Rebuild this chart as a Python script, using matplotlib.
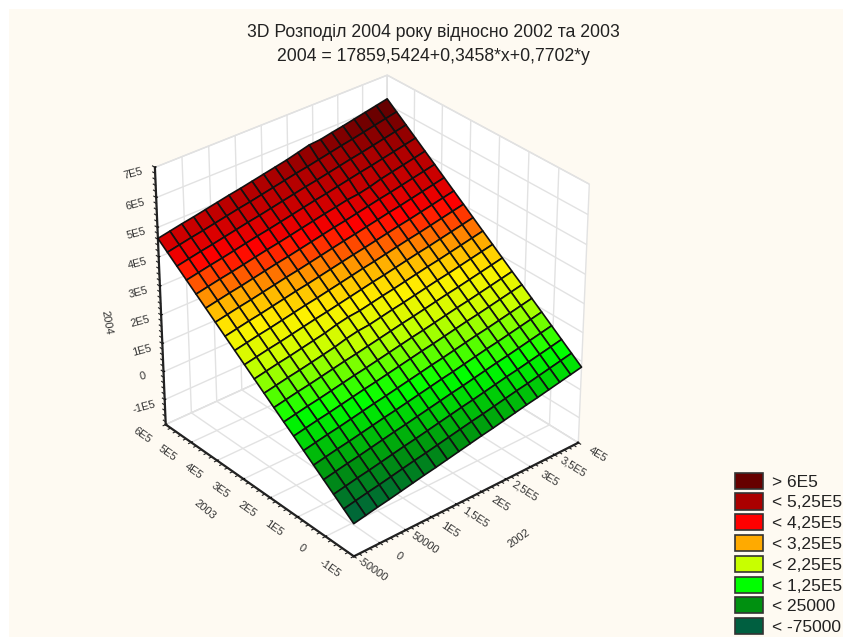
import matplotlib
matplotlib.use('Agg')
import matplotlib.pyplot as plt
import numpy as np
from matplotlib.colors import LinearSegmentedColormap, Normalize
from matplotlib.patches import Patch, Rectangle

plt.rcParams['font.family'] = ['Liberation Sans', 'DejaVu Sans']

# 2002 (x) and 2003 (y) grid of the fitted surface
x_2002 = [-50000, -27500, -5000, 17500, 40000, 62500, 85000, 107500, 130000, 152500, 175000,
          197500, 220000, 242500, 265000, 287500, 310000, 332500, 355000, 377500, 400000]
y_2003 = [-100000, -65000, -30000, 5000, 40000, 75000, 110000, 145000, 180000, 215000, 250000,
          285000, 320000, 355000, 390000, 425000, 460000, 495000, 530000, 565000, 600000]

# 2004, thousands (rows follow y_2003, columns x_2002)
z_2004 = [
    [-76, -68, -60, -53, -45, -37, -29, -22, -14, -6, 2, 10, 17, 25, 33, 41, 48, 56, 64, 72, 80],
    [-49, -41, -33, -26, -18, -10, -2, 5, 13, 21, 29, 37, 44, 52, 60, 68, 75, 83, 91, 99, 107],
    [-22, -14, -6, 1, 9, 17, 25, 32, 40, 48, 56, 64, 71, 79, 87, 95, 102, 110, 118, 126, 134],
    [5, 13, 21, 28, 36, 44, 52, 59, 67, 75, 83, 91, 98, 106, 114, 122, 129, 137, 145, 153, 161],
    [32, 40, 48, 55, 63, 71, 79, 86, 94, 102, 110, 118, 125, 133, 141, 149, 156, 164, 172, 180, 188],
    [59, 67, 75, 82, 90, 98, 106, 113, 121, 129, 137, 145, 152, 160, 168, 176, 183, 191, 199, 207, 215],
    [86, 94, 102, 109, 117, 125, 133, 140, 148, 156, 164, 172, 179, 187, 195, 203, 210, 218, 226, 234, 242],
    [112, 120, 128, 135, 143, 151, 159, 166, 174, 182, 190, 198, 205, 213, 221, 229, 236, 244, 252, 260, 268],
    [139, 147, 155, 162, 170, 178, 186, 193, 201, 209, 217, 225, 232, 240, 248, 256, 263, 271, 279, 287, 295],
    [166, 174, 182, 189, 197, 205, 213, 224, 232, 236, 244, 252, 259, 267, 275, 283, 290, 298, 306, 314, 322],
    [193, 201, 209, 216, 224, 232, 240, 251, 259, 263, 271, 279, 286, 294, 302, 310, 317, 325, 333, 341, 349],
    [220, 228, 236, 243, 251, 259, 267, 274, 282, 290, 298, 306, 313, 321, 329, 337, 344, 352, 360, 368, 376],
    [247, 255, 263, 270, 278, 286, 294, 301, 309, 317, 325, 333, 340, 348, 356, 364, 371, 379, 387, 395, 403],
    [274, 282, 290, 297, 305, 313, 321, 328, 336, 344, 352, 360, 367, 375, 383, 391, 398, 406, 414, 422, 430],
    [301, 309, 317, 324, 332, 340, 348, 355, 363, 371, 379, 387, 394, 402, 410, 418, 425, 433, 441, 449, 457],
    [328, 336, 344, 351, 359, 367, 375, 382, 390, 398, 406, 414, 421, 429, 437, 445, 452, 460, 468, 476, 484],
    [355, 363, 371, 378, 386, 394, 402, 409, 417, 425, 433, 441, 448, 456, 460, 468, 479, 487, 495, 503, 511],
    [382, 390, 398, 405, 413, 421, 429, 436, 444, 452, 460, 468, 475, 483, 491, 499, 506, 514, 522, 530, 538],
    [409, 417, 425, 432, 440, 448, 456, 463, 471, 479, 487, 495, 502, 510, 518, 526, 533, 541, 549, 557, 565],
    [436, 444, 452, 459, 467, 475, 483, 490, 498, 506, 514, 522, 529, 537, 545, 553, 560, 568, 576, 584, 592],
    [463, 471, 479, 486, 494, 502, 510, 517, 525, 533, 541, 549, 559, 569, 572, 580, 587, 595, 603, 611, 619],
]

x_ticks = [-50000, 0, 50000, 100000, 150000, 200000, 250000, 300000, 350000, 400000]
x_labels = ['-50000', '0', '50000', '1E5', '1,5E5', '2E5', '2,5E5', '3E5', '3,5E5', '4E5']
y_ticks = [-100000, 0, 100000, 200000, 300000, 400000, 500000, 600000]
y_labels = ['-1E5', '0', '1E5', '2E5', '3E5', '4E5', '5E5', '6E5']
z_ticks = [-100000, 0, 100000, 200000, 300000, 400000, 500000, 600000, 700000]
z_labels = ['-1E5', '0', '1E5', '2E5', '3E5', '4E5', '5E5', '6E5', '7E5']

legend_labels = ['> 6E5', '< 5,25E5', '< 4,25E5', '< 3,25E5', '< 2,25E5', '< 1,25E5', '< 25000', '< -75000']
legend_colors = ['#660000', '#AA0000', '#FF0000', '#FFAA00', '#C8FF00', '#00FF00', '#009010', '#005F40']

BG = '#FEFAF2'
TXT = '#333333'

# color ramp as seen on the surface
levels = [-75000, 10000, 115000, 215000, 280000, 335000, 410000, 465000, 525000, 600000]
level_colors = ['#005F40', '#009010', '#00FF00', '#C8FF00', '#FFF000', '#FFAA00', '#FF0000', '#CC0000',
                '#AA0000', '#660000']
norm = Normalize(levels[0], levels[-1])
cmap = LinearSegmentedColormap.from_list(
    'bands', [(norm(l), c) for l, c in zip(levels, level_colors)], N=256)

X, Y = np.meshgrid(x_2002, y_2003)
Z = np.array(z_2004) * 1000.0
cell_z = (Z[:-1, :-1] + Z[1:, :-1] + Z[:-1, 1:] + Z[1:, 1:]) / 4

fig = plt.figure(figsize=(8.43, 6.37), dpi=100, facecolor='white')
# cream panel, the picture has a thin white strip top and left
fig.add_artist(Rectangle((9 / 843, 0), 1, 1 - 9 / 637, transform=fig.transFigure, facecolor=BG,
                         edgecolor='none', zorder=-10))

ax = fig.add_axes([-0.070, 0.003, 1.0, 1.0], projection='3d')
ax.patch.set_alpha(0)
ax.view_init(elev=31.8, azim=-130.5)
ax.set_proj_type('persp', focal_length=0.9)
ax.set_box_aspect((1, 1, 1.01), zoom=0.795)

ax.plot_surface(X, Y, Z, rstride=1, cstride=1, facecolors=cmap(norm(cell_z)),
                edgecolor='#111111', linewidth=1.2, shade=False, antialiased=True)

XMIN, XMAX = -50000, 400000
YMIN, YMAX = -100000, 600000
ZMIN, ZMAX = -190000, 700000

# small ticks between the labelled ones
for t in range(XMIN, XMAX + 1, 10000):
    ax.plot([t, t], [YMIN, YMIN - 8000], [ZMIN, ZMIN], color='#222222', lw=0.8)
for t in range(YMIN, YMAX + 1, 20000):
    ax.plot([XMIN, XMIN - 5000], [t, t], [ZMIN, ZMIN], color='#222222', lw=0.8)
for t in range(-180000, ZMAX + 1, 20000):
    ax.plot([XMIN, XMIN], [YMAX, YMAX + 9000], [t, t], color='#222222', lw=0.8)

ax.set_xlim(XMIN, XMAX)
ax.set_ylim(YMIN, YMAX)
ax.set_zlim(ZMIN, ZMAX)

ax.set_xticks(x_ticks, [''] * len(x_ticks))
ax.set_yticks(y_ticks, [''] * len(y_ticks))
ax.set_zticks(z_ticks, z_labels)

for axis in (ax.xaxis, ax.yaxis, ax.zaxis):
    axis.set_pane_color('white')
    axis.pane.set_edgecolor('#DDDDDD')
    axis.line.set_color('#222222')
    axis.line.set_linewidth(1.6)
    axis._axinfo['grid']['color'] = '#E2E2E2'
    axis._axinfo['grid']['linewidth'] = 1.0
    axis._axinfo['tick']['color'] = '#222222'
    axis._axinfo['tick']['inward_factor'] = 0.0
    axis._axinfo['tick']['outward_factor'] = 0.06

ax.tick_params(axis='z', labelsize=8, labelcolor=TXT, labelrotation=15, pad=4)

# floor labels as 3D text, zdir gives them the slant of the 2003 edge
for t, lab in zip(x_ticks, x_labels):
    ax.text(t, YMIN - 65000, ZMIN, lab, zdir=(0, -1, 0), fontsize=8, color=TXT, ha='center', va='center')
for t, lab in zip(y_ticks, y_labels):
    ax.text(XMIN - 45000, t, ZMIN, lab, zdir=(0, -1, 0), fontsize=8, color=TXT, ha='center', va='center')

fig.text(205 / 843, 1 - 510 / 637, '2003', fontsize=8, color=TXT, rotation=-40, ha='center', va='center')
fig.text(519 / 843, 1 - 538 / 637, '2002', fontsize=8, color=TXT, rotation=35, ha='center', va='center')
fig.text(107 / 843, 1 - 323 / 637, '2004', fontsize=8, color=TXT, rotation=-80, ha='center', va='center')

fig.text(0.514, 0.949, '3D Розподіл 2004 року відносно 2002 та 2003', ha='center', va='center',
         fontsize=12.7, color='#222222')
fig.text(0.514, 0.911, '2004 = 17859,5424+0,3458*x+0,7702*y', ha='center', va='center',
         fontsize=12.7, color='#222222')

handles = [Patch(facecolor=c, edgecolor='#333333', linewidth=1.2) for c in legend_colors]
fig.legend(handles, legend_labels, loc='lower right', bbox_to_anchor=(1.007, -0.008), frameon=False,
           fontsize=12.5, labelcolor='#222222', handlelength=1.6, handleheight=1.05,
           handletextpad=0.5, labelspacing=0.22, borderpad=0.2, borderaxespad=0.2)

fig.savefig('out.png', dpi=100, facecolor='white')
